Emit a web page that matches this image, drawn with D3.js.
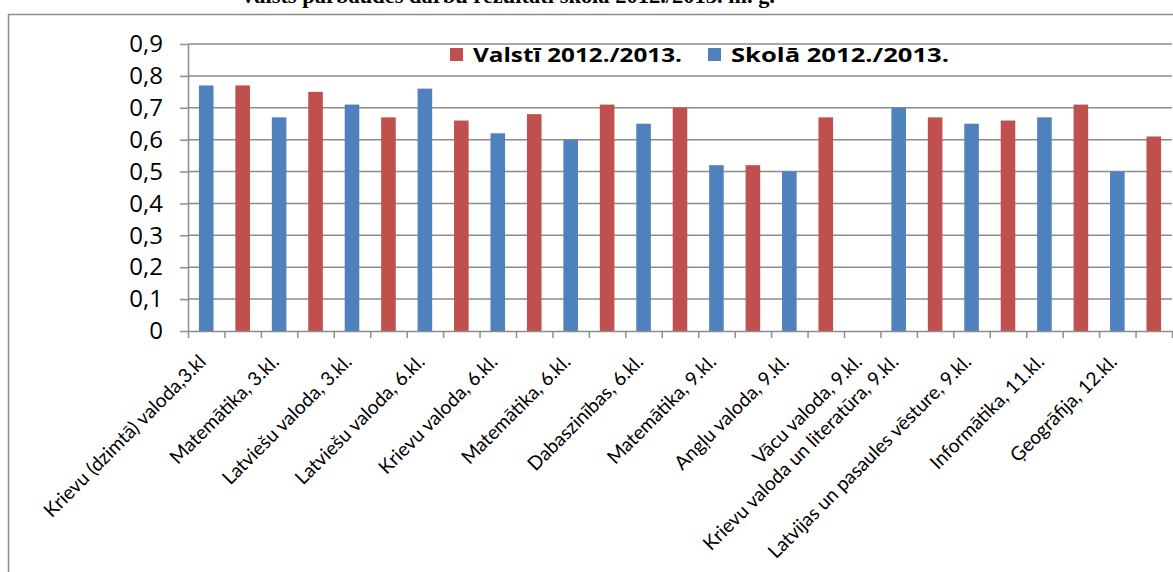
<!DOCTYPE html>
<html>
<head>
<meta charset="utf-8">
<script src="https://cdn.jsdelivr.net/npm/d3@7"></script>
<style>
  body { margin: 0; background: #fff; overflow: hidden; }
  svg { display: block; }
</style>
</head>
<body>
<div id="chart_area"></div>
<script>

// each column of the chart holds one bar, the label sits under some of them
var categories = ["Krievu (dzimtā) valoda,3.kl", "", "Matemātika, 3.kl.", "", "Latviešu valoda, 3.kl.", "",
    "Latviešu valoda, 6.kl.", "", "Krievu valoda, 6.kl.", "", "Matemātika, 6.kl.", "",
    "Dabaszinības, 6.kl.", "", "Matemātika, 9.kl.", "", "Angļu valoda, 9.kl.", "",
    "Vācu valoda, 9.kl.", "Krievu valoda un literatūra, 9.kl.", "", "Latvijas un pasaules vēsture, 9.kl.", "",
    "Informātika, 11.kl.", "", "Ģeogrāfija, 12.kl.", ""];

var skola = [0.77, null, 0.67, null, 0.71, null, 0.76, null, 0.62, null, 0.60, null, 0.65, null,
    0.52, null, 0.50, null, null, 0.70, null, 0.65, null, 0.67, null, 0.50, null];

var valsti = [null, 0.77, null, 0.75, null, 0.67, null, 0.66, null, 0.68, null, 0.71, null, 0.70,
    null, 0.52, null, 0.67, null, null, 0.67, null, 0.66, null, 0.71, null, 0.61];

var yTicks = [0, 0.1, 0.2, 0.3, 0.4, 0.5, 0.6, 0.7, 0.8, 0.9];

var series = [
    {name: "Valstī 2012./2013.", values: valsti, color: "#C0504D"},
    {name: "Skolā 2012./2013.", values: skola, color: "#4F81BD"}
];

var title = "Valsts pārbaudes darbu rezultāti skolā 2012./2013. m. g.";

var frame_width = 1173;
var frame_height = 572;
var plot = {left: 188, right: 1172, top: 44, bottom: 331};

var frame = d3.select("#chart_area").append("svg")
    .attr("width", frame_width)
    .attr("height", frame_height);

// outer chart border (top and left edges are visible)
frame.append("rect")
    .attr("x", 8.5).attr("y", 14.5)
    .attr("width", 1300).attr("height", 700)
    .attr("fill", "none")
    .attr("stroke", "#8c8c8c")
    .attr("stroke-width", 1.5);

// title, cut by the top edge of the picture
frame.append("text")
    .attr("x", 240).attr("y", 3)
    .attr("textLength", 535)
    .attr("lengthAdjust", "spacingAndGlyphs")
    .style("font-family", "'Liberation Serif', serif")
    .style("font-weight", "bold")
    .style("font-size", "22px")
    .text(title);

var xScale = d3.scaleBand()
    .domain(d3.range(categories.length))
    .range([plot.left, plot.right])
    .paddingInner(0.6)
    .paddingOuter(0.3);

var xEdges = d3.scaleLinear()
    .domain([0, categories.length])
    .range([plot.left, plot.right]);

var yScale = d3.scaleLinear()
    .domain([0, 0.9])
    .range([plot.bottom, plot.top]);

var lv = d3.formatLocale({decimal: ",", thousands: " ", grouping: [3], currency: ["", ""]});
var fmt = lv.format("~g");

// gridlines
frame.append("g")
    .selectAll("line")
    .data(yTicks.filter(function(d){return d > 0;}))
    .enter().append("line")
    .attr("x1", plot.left).attr("x2", plot.right)
    .attr("y1", function(d){return yScale(d);})
    .attr("y2", function(d){return yScale(d);})
    .attr("stroke", "#8c8c8c")
    .attr("stroke-width", 1.5);

// bars
var bars = frame.append("g");
series.forEach(function(s){
    bars.selectAll(null)
        .data(s.values.map(function(v, i){return {i: i, v: v};})
            .filter(function(d){return d.v != null;}))
        .enter().append("rect")
        .attr("x", function(d){return xScale(d.i);})
        .attr("width", xScale.bandwidth())
        .attr("y", function(d){return yScale(d.v);})
        .attr("height", function(d){return yScale(0) - yScale(d.v);})
        .attr("fill", s.color);
});

// y axis
var yAxis = d3.axisLeft(yScale)
    .tickValues(yTicks)
    .tickFormat(fmt)
    .tickSize(8)
    .tickSizeOuter(0)
    .tickPadding(17);

var yg = frame.append("g")
    .attr("transform", "translate(" + plot.left + ",0)")
    .call(yAxis);

// x axis, ticks between the columns
var xAxis = d3.axisBottom(xEdges)
    .tickValues(d3.range(0, categories.length + 1))
    .tickFormat("")
    .tickSize(7)
    .tickSizeOuter(0);

var xg = frame.append("g")
    .attr("transform", "translate(0," + plot.bottom + ")")
    .call(xAxis);

[yg, xg].forEach(function(g){
    g.selectAll("path, line").attr("stroke", "#8c8c8c").attr("stroke-width", 1.5);
    g.selectAll("text")
        .style("font-family", "'Open Sans', sans-serif")
        .style("font-size", "24px")
        .attr("fill", "#000");
});

// category labels, rotated
frame.append("g")
    .selectAll("text")
    .data(categories.map(function(c, i){return {i: i, c: c};})
        .filter(function(d){return d.c != "";}))
    .enter().append("text")
    .attr("transform", function(d){
        var cx = xScale(d.i) + xScale.bandwidth() / 2 + 1;
        return "translate(" + cx + ",363) rotate(-45)";
    })
    .attr("text-anchor", "end")
    .style("font-family", "Lato, sans-serif")
    .style("font-size", "19.3px")
    .text(function(d){return d.c;});

// legend
var legend = frame.append("g");
var legendX = [450, 708];
var legendW = [209, 218];
series.forEach(function(s, i){
    legend.append("rect")
        .attr("x", legendX[i]).attr("y", 48)
        .attr("width", 13).attr("height", 13)
        .attr("fill", s.color);
    legend.append("text")
        .attr("x", legendX[i] + 23).attr("y", 62)
        .attr("textLength", legendW[i])
        .attr("lengthAdjust", "spacingAndGlyphs")
        .style("font-family", "'Open Sans', sans-serif")
        .style("font-weight", "bold")
        .style("font-size", "19px")
        .text(s.name);
});

</script>
</body>
</html>
